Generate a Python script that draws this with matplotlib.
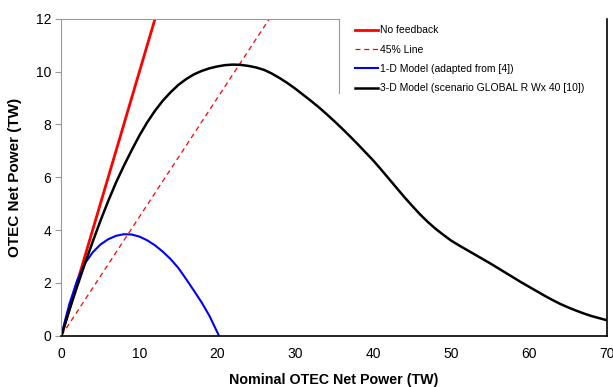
"""OTEC net power vs nominal net power: feedback models compared."""
import numpy as np
import matplotlib
matplotlib.use("Agg")
import matplotlib.pyplot as plt
from matplotlib.lines import Line2D

plt.rcParams["font.family"] = ["Liberation Sans", "DejaVu Sans"]

# straight reference lines (slope values)
ref_x = [0, 70]
no_feedback_slope = 1.0
line45_slope = 0.45

# 1-D model (adapted from [4])
x_1d = [0, 0.5, 1, 2, 3, 4, 5, 6, 7, 8, 9, 10, 11, 12, 13, 14, 15, 16, 17, 18,
        19, 20.2]
y_1d = [0, 0.62, 1.18, 2.08, 2.73, 3.15, 3.45, 3.65, 3.78, 3.84, 3.83, 3.75,
        3.61, 3.42, 3.18, 2.9, 2.56, 2.14, 1.7, 1.25, 0.74, 0]

# 3-D model (scenario GLOBAL R Wx 40 [10])
x_3d = [0, 1, 2, 3, 4, 5, 6, 7, 8, 9, 10, 11, 12, 13, 14, 15, 16, 17, 18, 19,
        20, 21, 22, 23, 24, 25, 26, 27, 28, 29, 30, 31, 32, 33, 34, 35, 36, 37,
        38, 39, 40, 41, 42, 43, 44, 45, 46, 47, 48, 49, 50, 51, 52, 53, 54, 55,
        56, 57, 58, 59, 60, 61, 62, 63, 64, 65, 66, 67, 68, 69, 70]
y_3d = [0, 0.95, 1.85, 2.72, 3.55, 4.35, 5.1, 5.8, 6.43, 7.02, 7.58, 8.08,
        8.52, 8.9, 9.22, 9.5, 9.72, 9.9, 10.03, 10.13, 10.2, 10.25, 10.27, 10.26,
        10.22, 10.16, 10.07, 9.93, 9.76, 9.57, 9.36, 9.13, 8.9, 8.66, 8.4, 8.13,
        7.85, 7.56, 7.26, 6.95, 6.64, 6.3, 5.95, 5.6, 5.25, 4.92, 4.6, 4.31,
        4.05, 3.82, 3.6, 3.42, 3.25, 3.08, 2.91, 2.74, 2.56, 2.38, 2.2, 2.02,
        1.85, 1.68, 1.51, 1.35, 1.2, 1.07, 0.95, 0.84, 0.74, 0.66, 0.58]

x_ticks = [0, 10, 20, 30, 40, 50, 60, 70]
y_ticks = [0, 2, 4, 6, 8, 10, 12]

fig = plt.figure(figsize=(6.13, 3.87), dpi=100)
ax = fig.add_axes([0.1003, 0.133, 0.8897, 0.818])

rx = np.array(ref_x, dtype=float)
ax.plot(rx, no_feedback_slope * rx, color="#ff0000", lw=2.0, label="No feedback")
ax.plot(rx, line45_slope * rx, color="#ff0000", lw=0.9, ls=(0, (4, 3)),
        label="45% Line")
ax.plot(x_1d, y_1d, color="#0000ff", lw=1.5, label="1-D Model (adapted from [4])")
ax.plot(x_3d, y_3d, color="black", lw=1.8,
        label="3-D Model (scenario GLOBAL R Wx 40 [10])")

ax.set_xlim(0, 70)
ax.set_ylim(0, 12)
ax.set_xticks(x_ticks)
ax.set_yticks(y_ticks)
ax.tick_params(axis="x", length=0, pad=8, labelsize=10)
ax.tick_params(axis="y", length=4, color="#999999", width=0.8, labelsize=10)

ax.spines["left"].set_color("#999999")
ax.spines["bottom"].set_color("black")
ax.spines["bottom"].set_linewidth(1.2)
ax.spines["right"].set_color("black")
ax.spines["right"].set_linewidth(1.2)
ax.spines["top"].set_visible(False)

# top edge only up to the legend box, plus the box's grey left edge
split = 0.509
ax.add_line(Line2D([0, split], [1, 1], transform=ax.transAxes, color="#999999",
                   lw=0.8, clip_on=False))
ax.add_line(Line2D([split, split], [1, 0.765], transform=ax.transAxes,
                   color="#999999", lw=0.8, clip_on=False))

ax.set_xlabel("Nominal OTEC Net Power (TW)", fontsize=10.3, fontweight="bold",
              labelpad=9)
ax.set_ylabel("OTEC Net Power (TW)", fontsize=11, fontweight="bold", labelpad=10)

ax.legend(loc="upper left", bbox_to_anchor=(split + 0.018, 1.0), frameon=False,
          fontsize=7.5, handlelength=2.2, handletextpad=0.2, labelspacing=0.9,
          borderaxespad=0.2)

fig.savefig("out.png", dpi=100)
